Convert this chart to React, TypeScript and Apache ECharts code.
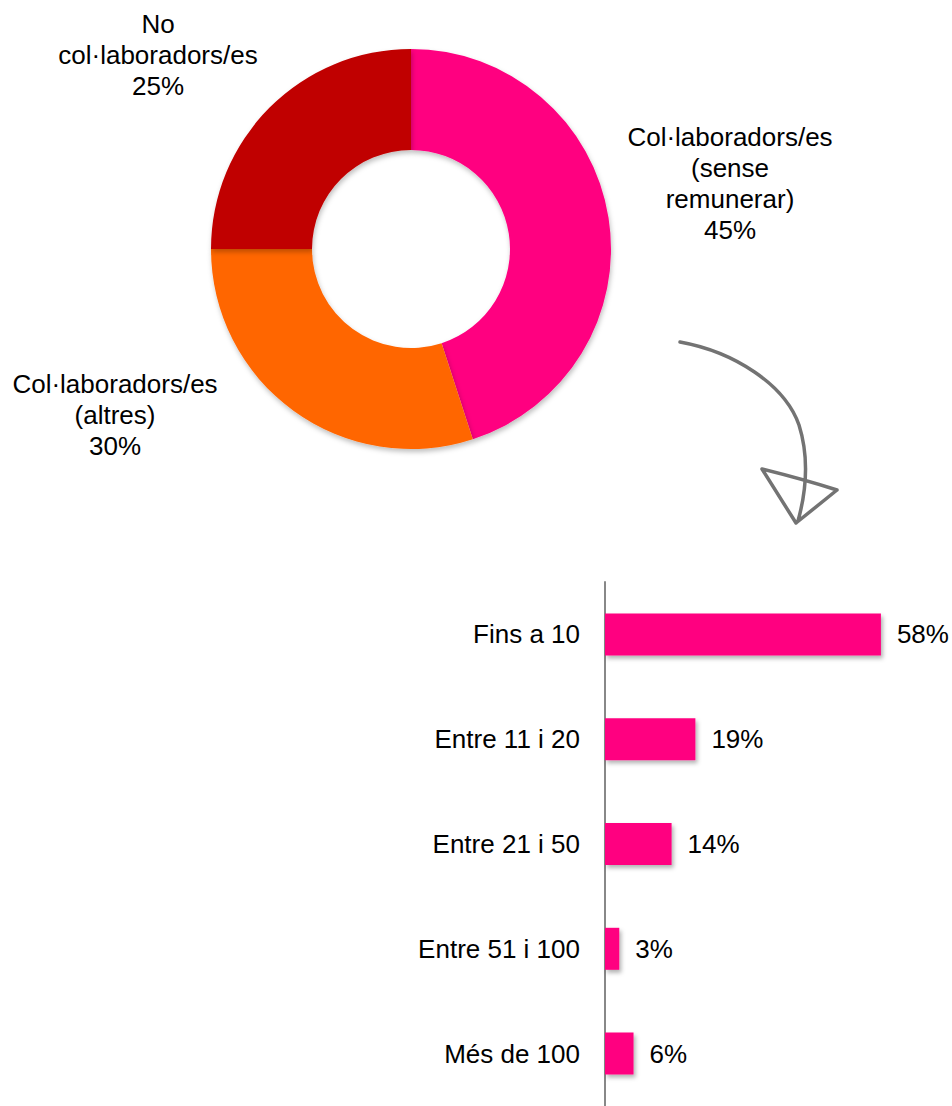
import React, { useEffect, useRef } from "react";
import * as echarts from "echarts";

const pieNames = ["Col·laboradors/es\n(sense\nremunerar)", "Col·laboradors/es\n(altres)", "No\ncol·laboradors/es"];
const pieValues = [45, 30, 25];
const pieColors = ["#FF0080", "#FF6600", "#C00000"];

const barCategories = ["Fins a 10", "Entre 11 i 20", "Entre 21 i 50", "Entre 51 i 100", "Més de 100"];
const barValues = [58, 19, 14, 3, 6];

const labelSpots = [
  [730, 183],
  [115, 415],
  [158, 55],
];

const arrowD =
  "M680,342 C735,352 785,385 799,425 C810,460 806,492 798,521 M762,469 C790,476 815,483 837,490 M837,490 L796,523 M796,523 L762,469";

export default function App() {
  const ref = useRef<HTMLDivElement>(null);
  useEffect(() => {
    if (!ref.current) return;
    try {
      echarts.graphic.registerShape("arrowShape", echarts.graphic.extendPath(arrowD, {}) as any);
    } catch (e) {}
    const chart = echarts.init(ref.current, null, { renderer: "svg" });
    const font = "'Liberation Sans', Arial, sans-serif";
    chart.setOption({
      animation: false,
      backgroundColor: "#ffffff",
      textStyle: { fontFamily: font },
      grid: { left: 605, top: 582, bottom: -4, right: 14, containLabel: false },
      xAxis: { type: "value", min: 0, max: 70, show: false },
      yAxis: {
        type: "category",
        inverse: true,
        data: barCategories,
        axisLine: { show: true, lineStyle: { color: "#888888", width: 2 } },
        axisTick: { show: false },
        axisLabel: { color: "#000", fontSize: 26, margin: 25, fontFamily: font },
      },
      series: [
        {
          type: "pie",
          center: [411, 249],
          radius: [99, 200],
          startAngle: 90,
          clockwise: true,
          data: pieNames.map((n, i) => ({ name: n, value: pieValues[i], itemStyle: { color: pieColors[i] } })),
          itemStyle: { shadowBlur: 5, shadowOffsetX: 1, shadowOffsetY: 3, shadowColor: "rgba(0,0,0,0.25)" },
          label: {
            show: true,
            formatter: (p: any) => p.name + "\n" + p.value + "%",
            color: "#000",
            fontSize: 26,
            lineHeight: 31,
            align: "center",
            fontFamily: font,
          },
          labelLine: { show: false },
          labelLayout: (p: any) => ({
            x: labelSpots[p.dataIndex][0],
            y: labelSpots[p.dataIndex][1],
            align: "center",
            verticalAlign: "middle",
          }),
          emphasis: { disabled: true },
        },
        {
          type: "bar",
          data: barValues,
          barWidth: 42,
          itemStyle: {
            color: "#FF0080",
            shadowBlur: 4,
            shadowOffsetX: 2,
            shadowOffsetY: 3,
            shadowColor: "rgba(0,0,0,0.3)",
          },
          label: {
            show: true,
            position: "right",
            distance: 16,
            formatter: "{c}%",
            color: "#000",
            fontSize: 26,
            fontFamily: font,
          },
          emphasis: { disabled: true },
        },
      ],
      graphic: [
        {
          type: "arrowShape",
          x: 0,
          y: 0,
          style: { fill: "none", stroke: "#737373", lineWidth: 3.5, lineCap: "round", lineJoin: "round" },
        },
      ],
    });
    return () => chart.dispose();
  }, []);
  return <div ref={ref} style={{ position: "fixed", left: 0, top: 0, width: 952, height: 1106 }} />;
}
